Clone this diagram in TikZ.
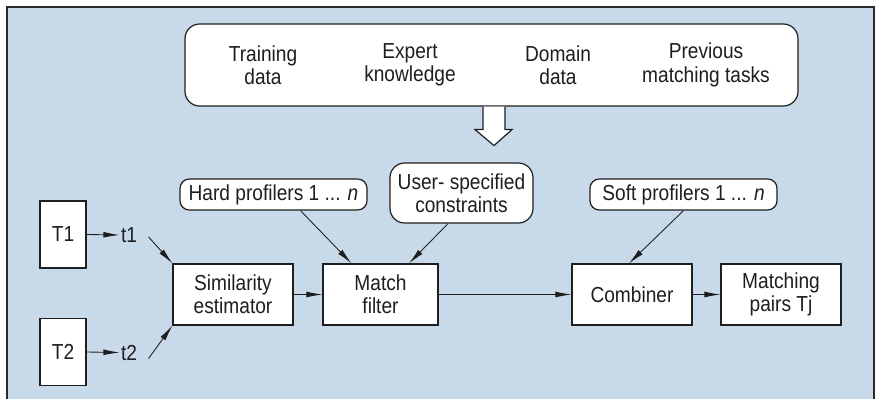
\documentclass[tikz,border=0pt]{standalone}
\usepackage{fontspec}
\setmainfont{Liberation Sans}[FakeStretch=0.88]
\definecolor{panelblue}{RGB}{200, 217, 234}
\definecolor{framegray}{RGB}{40, 40, 45}
\definecolor{inkgray}{RGB}{30, 30, 30}
\usetikzlibrary{arrows.meta, positioning, calc}

\tikzset{
  stagebox/.style={draw=inkgray, fill=white, line width=0.9pt, inner sep=0pt, align=center},
  tagbox/.style={draw=inkgray, fill=white, line width=0.9pt, rounded corners=7pt, inner sep=0pt, align=center},
  lbl/.style={inner sep=1pt, text=inkgray, align=center},
  arr/.style={-{Latex[length=12pt, width=4.4pt]}, draw=inkgray, line width=0.65pt}
}

\begin{document}
\begin{tikzpicture}[x=0.75pt, y=-0.75pt, font=\fontsize{16.3}{17.5}\selectfont, text=inkgray]
  \useasboundingbox (0,0) rectangle (877,399);

  % Background panel
  \fill[panelblue] (7,7) rectangle (874,399);
  \draw[framegray, line width=1.5pt] (7,399) -- (7,7) -- (874,7) -- (874,399);

  % Knowledge sources
  \node[tagbox, rounded corners=11pt, minimum width=613*0.75pt, minimum height=82*0.75pt] (src) at (491.5,65) {};
  \node[lbl] (train) at (263,65) {Training\\data};
  \node[lbl] (expert) at (410,65) {Expert\\knowledge};
  \node[lbl] (domain) at (558,65) {Domain\\data};
  \node[lbl] (prev) at (706,65) {Previous\\matching tasks};

  % Hollow arrow into the pipeline
  \draw[inkgray, fill=white, line width=0.9pt]
    ($(src.south)+(-8.5,0)$) -- ++(0,23) -- ++(-8,0) -- ($(src.south)+(2.5,39)$)
    -- ($(src.south)+(20.5,23)$) -- ++(-7,0) -- ($(src.south)+(13.5,0)$);

  % Inputs
  \node[stagebox, minimum width=46*0.75pt, minimum height=67*0.75pt] (T1) at (63,234.5) {T1};
  \node[stagebox, minimum width=46*0.75pt, minimum height=67*0.75pt] (T2) at (63,352) {T2};
  \node[lbl] (t1) at (129,235) {t1};
  \node[lbl] (t2) at (129,352.5) {t2};

  % Pipeline stages
  \node[stagebox, minimum width=120*0.75pt, minimum height=61*0.75pt] (sim) at (233,294.5) {Similarity\\estimator};
  \node[stagebox, minimum width=115*0.75pt, minimum height=61*0.75pt] (match) at (380.5,294.5) {Match\\filter};
  \node[stagebox, minimum width=120*0.75pt, minimum height=61*0.75pt] (comb) at (632,294.5) {Combiner};
  \node[stagebox, minimum width=120*0.75pt, minimum height=61*0.75pt] (pairs) at (781,294.5) {Matching\\pairs Tj};

  % Profilers and constraints
  \node[tagbox, minimum width=187*0.75pt, minimum height=31*0.75pt] (hard) at (273.5,194.5) {Hard profilers 1 ... \textit{n}};
  \node[tagbox, rounded corners=11pt, minimum width=143*0.75pt, minimum height=60*0.75pt] (user) at (461.5,193) {User- specified\\constraints};
  \node[tagbox, minimum width=187*0.75pt, minimum height=31*0.75pt] (soft) at (683.5,194.5) {Soft profilers 1 ... \textit{n}};

  % Connectors
  \draw[arr] (T1.east) -- (t1.west);
  \draw[arr] (T2.east) -- (t2.west);
  \draw[arr] ([shift={(10,2)}]t1.east) -- (sim.north west);
  \draw[arr] ([shift={(10,6)}]t2.east) -- (sim.south west);
  \draw[arr] (sim.east) -- (match.west);
  \draw[arr] ([shift={(27,0)}]hard.south) -- ([shift={(-29,0)}]match.north);
  \draw[arr] ([shift={(-13.5,0)}]user.south) -- ([shift={(28.5,0)}]match.north);
  \draw[arr] (match.east) -- (comb.west);
  \draw[arr] (soft.south) -- ([shift={(-3,0)}]comb.north);
  \draw[arr] (comb.east) -- (pairs.west);
\end{tikzpicture}
\end{document}
